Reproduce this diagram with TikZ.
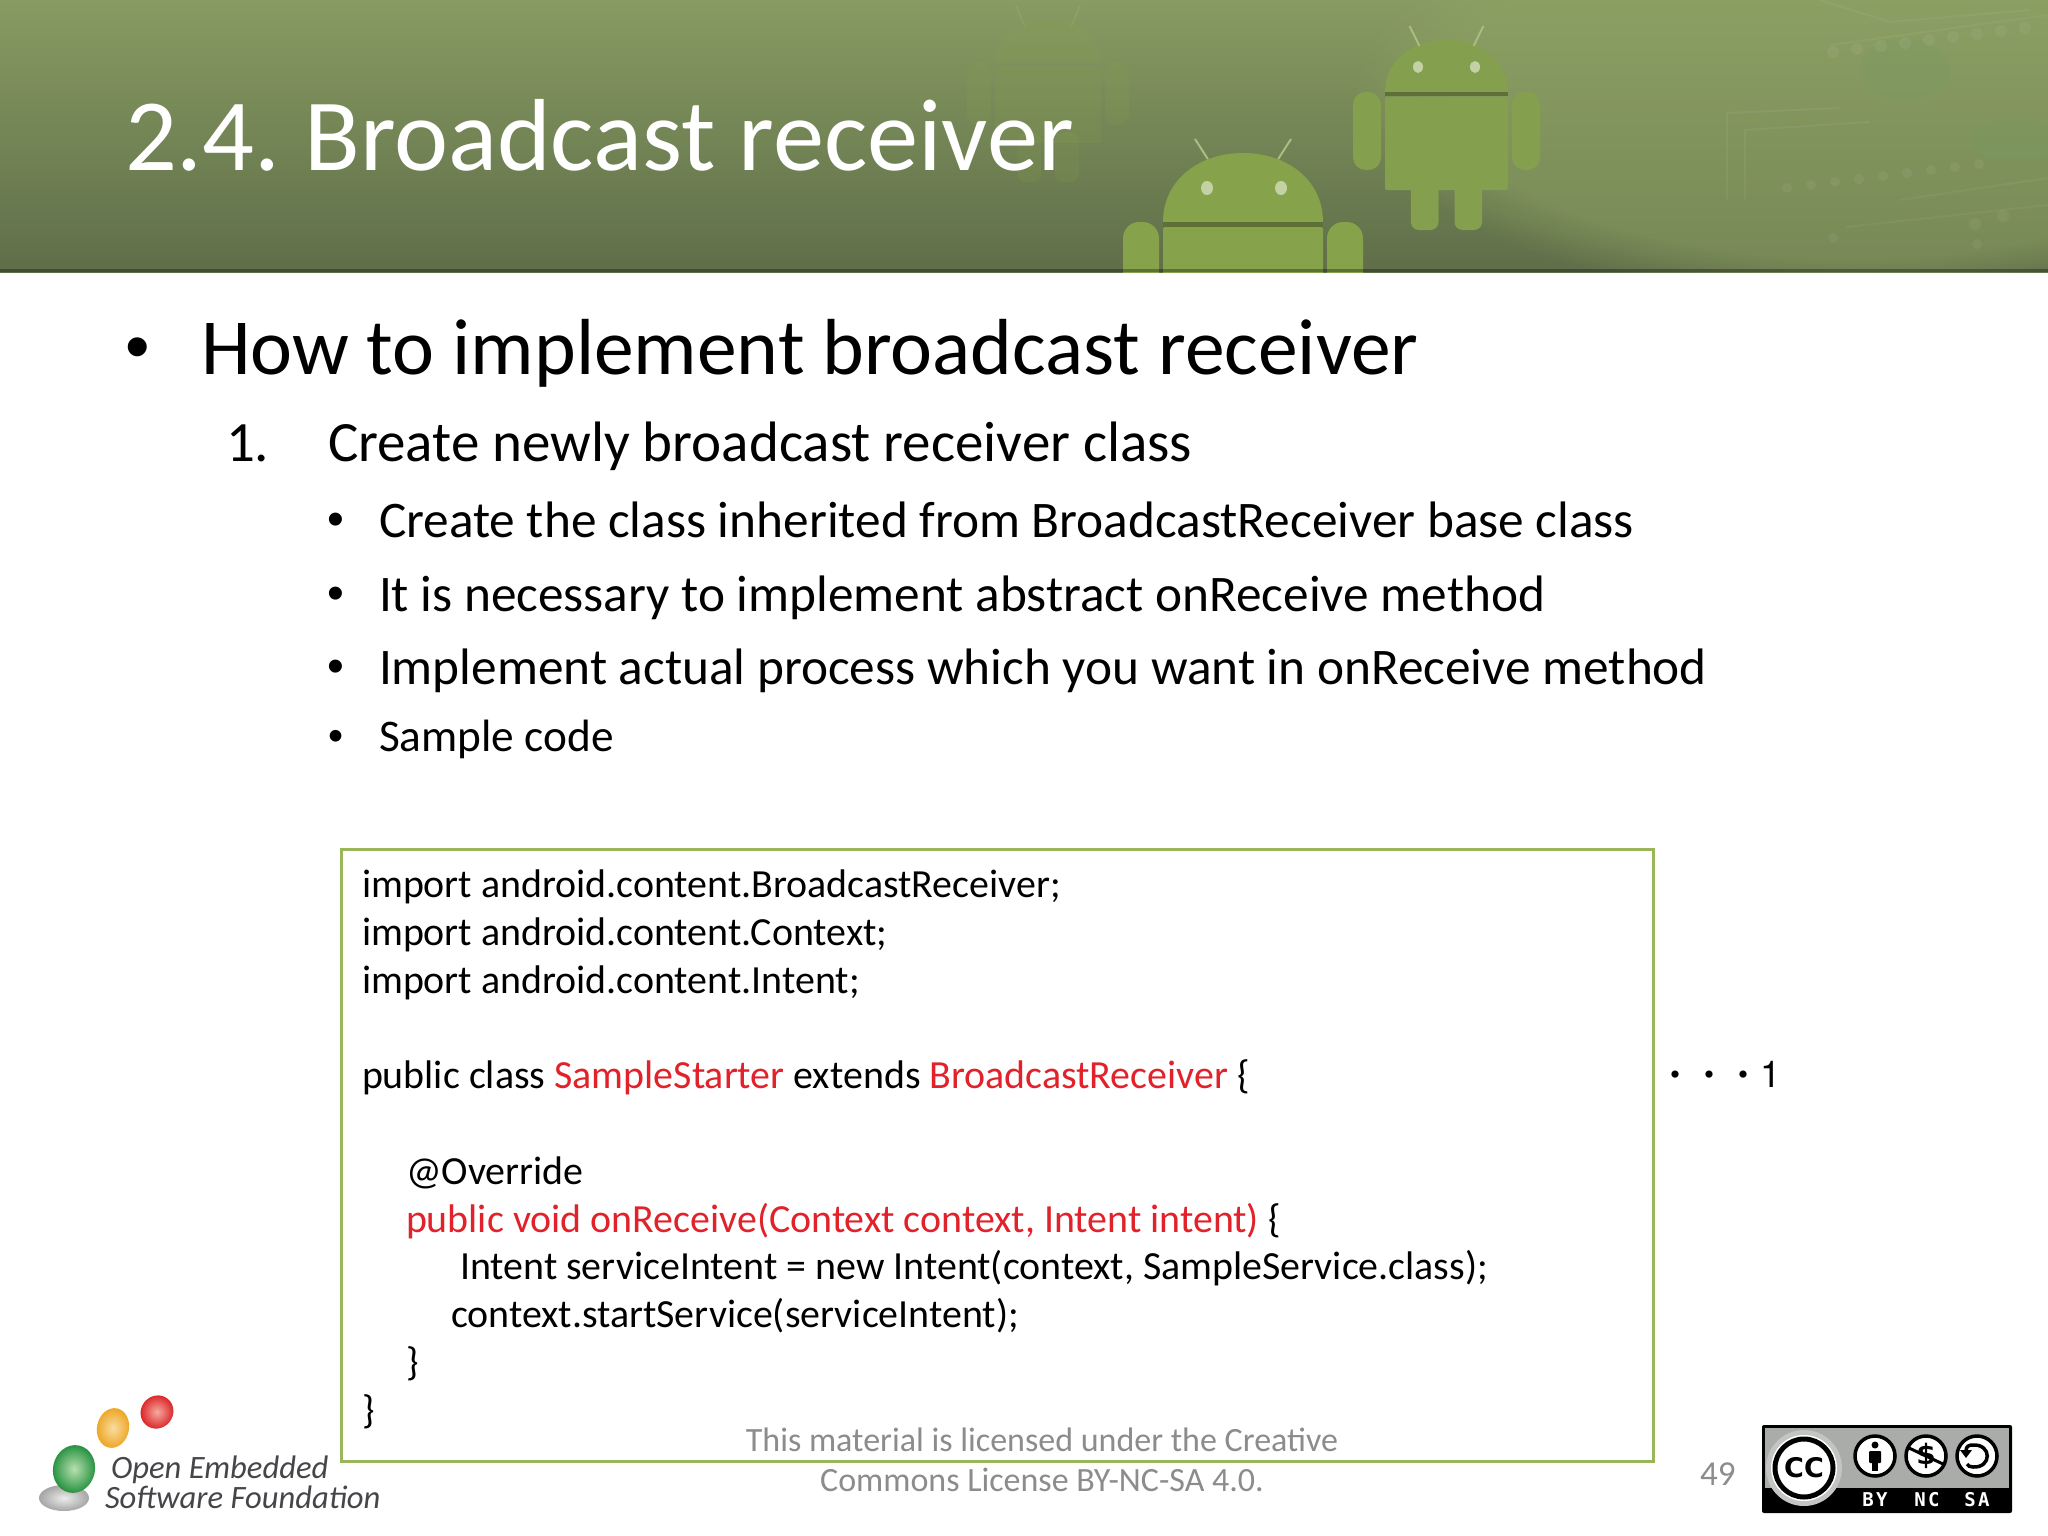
\documentclass[tikz,border=0pt]{standalone}
\usepackage{fontspec}
\setmainfont{Carlito}
\newfontfamily\arialf{Liberation Sans}
\newfontfamily\heirf{TeX Gyre Heros}
\newfontfamily\badgef[LetterSpace=12]{DejaVu Sans Mono}
\newfontfamily\ccf{DejaVu Sans}
\newfontfamily\dotf{Noto Sans CJK JP}
\usetikzlibrary{fadings}
\definecolor{bannertop}{HTML}{889B62}
\definecolor{bannermid}{HTML}{7B8C60}
\definecolor{bannerbot}{HTML}{5F6E49}
\definecolor{bannerlight}{HTML}{8FA364}
\definecolor{blobgreen}{HTML}{6F9E64}
\definecolor{droid}{HTML}{86A24B}
\definecolor{droiddark}{HTML}{5E7038}
\definecolor{boxgreen}{HTML}{9BB65A}
\definecolor{codered}{HTML}{E2222A}
\definecolor{footgray}{HTML}{8C8C8C}
\definecolor{logogray}{HTML}{46464A}
\definecolor{badgegray}{HTML}{A9ACA8}
\definecolor{eggred}{HTML}{D81A1E}
\definecolor{eggredin}{HTML}{F6A9A0}
\definecolor{eggor}{HTML}{EDA21E}
\definecolor{eggorin}{HTML}{F8DDA0}
\definecolor{egggr}{HTML}{1C8C38}
\definecolor{egggrin}{HTML}{B8E0B0}
\newcommand{\fs}[1]{\fontsize{#1}{#1}\selectfont}
\newcommand{\red}[1]{\textcolor{codered}{#1}}
\tikzset{
  x=1pt,y=-1pt,
  txt/.style={anchor=base west,inner sep=0pt,outer sep=0pt},
  title/.style={txt,text=white,font=\fs{102.4}},
  lvlone/.style={txt,text=black,font=\fs{79.5}},
  lvltwo/.style={txt,text=black,font=\fs{57}},
  lvlthree/.style={txt,text=black,font=\fs{51.3}},
  lvlthreeb/.style={txt,text=black,font=\fs{45.3}},
  bullet/.style={txt,text=black,font=\arialf\fs{#1}},
  code/.style={txt,text=black,font=\fs{39.9}},
  foot/.style={anchor=base,inner sep=0pt,text=footgray,font=\fs{34}},
  logotext/.style={txt,text=logogray,font=\itshape\fs{32.6}},
  badgetext/.style={anchor=center,inner sep=0pt,text=white,font=\badgef\bfseries\fs{19}},
  trace/.style={draw=white,opacity=.05,line width=2pt},
  pad/.style={fill=white,opacity=.06},
}
% #1 left of head, #2 right of head, #3 head top, #4 neck, #5 body bottom, #6 arm width, #7 arm bottom, #8 leg bottom, #9 colour
\newcommand{\droidfig}[9]{
  \pgfmathsetmacro{\dc}{(#1+#2)/2}
  \pgfmathsetmacro{\dw}{#2-#1}
  \fill[#9] (#1,#4) .. controls (#1,#3+0.40*#4-0.40*#3) and (\dc-0.28*\dw,#3) .. (\dc,#3)
     .. controls (\dc+0.28*\dw,#3) and (#2,#3+0.40*#4-0.40*#3) .. (#2,#4) -- cycle;
  \fill[#9,rounded corners=2pt] (#1,#4+5) rectangle (#2,#5);
  \fill[#9,rounded corners=#6*0.45] (#1-#6-4,#4) rectangle (#1-4,#7);
  \fill[#9,rounded corners=#6*0.45] (#2+4,#4) rectangle (#2+#6+4,#7);
  \fill[#9,rounded corners=8pt] (\dc-0.29*\dw,#5-10) rectangle (\dc-0.065*\dw,#8);
  \fill[#9,rounded corners=8pt] (\dc+0.065*\dw,#5-10) rectangle (\dc+0.29*\dw,#8);
  \draw[#9!70!white,line width=2pt] (\dc-0.22*\dw,#3+6) -- (\dc-0.30*\dw,#3-14);
  \draw[#9!70!white,line width=2pt] (\dc+0.22*\dw,#3+6) -- (\dc+0.30*\dw,#3-14);
}
\begin{document}
\begin{tikzpicture}
\useasboundingbox (0,0) rectangle (2048,1536);
\fill[white] (0,0) rectangle (2048,1536);
% banner
\shade[top color=bannertop,middle color=bannermid,bottom color=bannerbot] (0,0) rectangle (2048,272);
\begin{scope}
\clip (0,0) rectangle (2048,272);
\fill[bannerlight,opacity=.5,path fading=circle with fuzzy edge 20 percent] (1350,-120) rectangle (2350,300);
\end{scope}
% faint circuit traces
\fill[blobgreen,opacity=.18] (1905,70) ellipse (45 and 32);
\fill[blobgreen,opacity=.18] (2015,140) ellipse (45 and 22);
\draw[trace] (1727,200) -- (1727,113) -- (1840,108);
\draw[trace] (1745,200) -- (1745,130) -- (1870,122);
\draw[trace] (1820,0) -- (1890,22) -- (2030,10);
\draw[trace] (1830,45) -- (2048,15);
\draw[trace] (1846,227) -- (2048,205);
\draw[trace] (1900,200) -- (2048,178);
\foreach \i in {0,...,8}{
  \fill[pad] (1833+24*\i,52-3*\i) circle (6);
  \fill[pad] (1787+24*\i,188-3*\i) circle (5);
}
\fill[pad] (1975,224) circle (6);
\fill[pad] (1977,244) circle (5);
\fill[pad] (2003,216) circle (6);
\fill[pad] (1833,238) circle (5);
% androids
\begin{scope}
\clip (0,0) rectangle (2048,272);
\begin{scope}[opacity=.18]
\droidfig{995}{1101}{20}{62}{143}{24}{125}{182}{droid}
\end{scope}
\droidfig{1385}{1508}{40}{92}{190}{28}{170}{230}{droid!85!bannermid}
\fill[droiddark] (1385,92) rectangle (1508,96);
\fill[white!50!droid] (1418,67) ellipse (5 and 6);
\fill[white!50!droid] (1475,67) ellipse (5 and 6);
\droidfig{1163}{1323}{153}{222}{300}{36}{300}{300}{droid}
\fill[droiddark] (1163,222) rectangle (1323,227);
\fill[white!50!droid] (1207,188) ellipse (6 and 7);
\fill[white!50!droid] (1281,188) ellipse (6 and 7);
\end{scope}
\fill[black,opacity=.3] (0,269) rectangle (2048,272);
\node[title] (title) at (125,171) {2.4.\hspace{-7pt} Broadcast receiver};
% body text
\node[bullet=70] (b1) at (125,370) {•};
\node[lvlone] (h1) at (201,374) {How to implement broadcast receiver};
\node[lvltwo] (n1) at (226,461) {1.};
\node[lvltwo] (h2) at (328,461) {Create newly broadcast receiver class};
\node[bullet=48] (b2) at (327,535) {•};
\node[lvlthree] (t2) at (379,537) {Create the class inherited from BroadcastReceiver base class};
\node[bullet=48] (b3) at (327,609) {•};
\node[lvlthree] (t3) at (379,611) {It is necessary to implement abstract onReceive method};
\node[bullet=48] (b4) at (327,682) {•};
\node[bullet=43] (b5) at (328,750) {•};
\node[lvlthree] (t4) at (379,684) {Implement actual process which you want in onReceive method};
\node[lvlthreeb] (t5) at (379,751) {Sample code};
% code box
\draw[boxgreen,line width=3pt,fill=white] (341,849) rectangle (1653,1461);
\node[code] (c1) at (362,897) {import android.content.BroadcastReceiver;};
\node[code] (c2) at (362,945) {import android.content.Context;};
\node[code] (c3) at (362,993) {import android.content.Intent;};
\node[code] (c4) at (362,1088) {public class \red{SampleStarter} extends \red{BroadcastReceiver} \{};
\node[code] (c5) at (406,1184) {@Override};
\node[code] (c6) at (406,1232) {\red{public void onReceive(Context context, Intent intent)} \{};
\node[code] (c7) at (460,1279) {Intent serviceIntent = new Intent(context, SampleService.class);};
\node[code] (c8) at (451,1327) {context.startService(serviceIntent);};
\node[code] (c9) at (406,1375) {\}};
\node[code] (c10) at (362,1423) {\}};
\node[txt,font=\heirf\fs{37}] (dots) at (1658,1087) {{\dotf\fs{34}・・・}1};
% footer
\node[foot] (f1) at (1042,1451) {This material is licensed under the Creative};
\node[foot] (f2) at (1042,1491) {Commons License BY-NC-SA 4.0.};
\node[foot,anchor=base west,font=\fs{35}] (pg) at (1700,1485) {49};
% logo
\shade[inner color=gray!15,outer color=gray!70] (64,1498) ellipse (25 and 13);
\shade[inner color=egggrin,outer color=egggr,rotate around={-12:(74,1469)}] (74,1469) ellipse (21 and 24);
\shade[inner color=eggorin,outer color=eggor,rotate around={-12:(113,1428)}] (113,1428) ellipse (16 and 20);
\shade[inner color=eggredin,outer color=eggred,rotate around={-40:(157,1412)}] (157,1412) ellipse (16 and 17);
\node[logotext] (l1) at (111,1478) {Open Embedded};
\node[logotext] (l2) at (105,1508) {Software Foundation};
% badge
\fill[black,rounded corners=2pt] (1762,1425) rectangle (2012,1513);
\fill[badgegray] (1765,1428) rectangle (2009,1488);
\fill[badgegray!70] (1804,1468) circle (38);
\fill[white] (1804,1468) circle (33);
\draw[black,line width=5pt] (1804,1468) circle (29);
\node[anchor=center,inner sep=0pt,font=\ccf\bfseries\fs{27}] (cc) at (1804,1468) {CC};
\foreach \cx in {1875,1926,1977}{
  \fill[white] (\cx,1456) circle (21);
  \draw[black,line width=3.5pt] (\cx,1456) circle (20);
}
\fill[black] (1875,1445) circle (3.5);
\fill[black,rounded corners=1pt] (1869,1451) rectangle (1881,1463);
\fill[black] (1872,1460) rectangle (1878,1471);
\node[anchor=center,inner sep=0pt,font=\ccf\bfseries\fs{28}] (dollar) at (1926,1456) {\$};
\draw[black,line width=3pt] (1909,1448) -- (1943,1464);
\draw[black,line width=3.5pt] (1966,1451) .. controls (1966,1446) and (1969,1445) .. (1973,1445) .. controls (1992,1444) and (1992,1468) .. (1973,1467) .. controls (1970,1467) and (1968,1466) .. (1967,1464);
\fill[black] (1960,1450) -- (1972,1450) -- (1966,1458) -- cycle;
\node[badgetext] (by) at (1875,1500) {BY};
\node[badgetext] (nc) at (1927,1500) {NC};
\node[badgetext] (sa) at (1977,1500) {SA};
\end{tikzpicture}
\end{document}
